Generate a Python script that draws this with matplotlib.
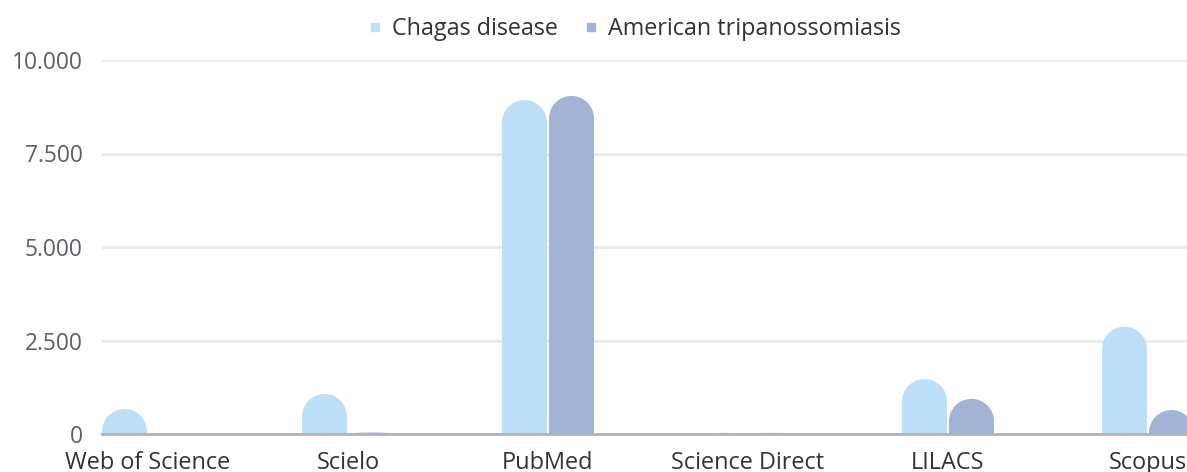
import numpy as np
import matplotlib
matplotlib.use('Agg')
from matplotlib import pyplot as plt
from matplotlib.patches import Ellipse
from matplotlib.lines import Line2D
from matplotlib.ticker import FuncFormatter
plt.rcParams['font.family'] = ['Open Sans', 'DejaVu Sans']

# data
databases = ['Web of Science', 'Scielo', 'PubMed', 'Science Direct', 'LILACS', 'Scopus']
chagas = [670, 1070, 8930, 30, 1470, 2870]
american = [10, 40, 9040, 30, 940, 640]
series_names = ['Chagas disease', 'American tripanossomiasis']
colors = ['#bde0f8', '#a2b3d6']

W, H = 1187, 472
fig = plt.figure(figsize=(W / 100, H / 100), dpi=100)
ax = fig.add_axes([102 / W, 38 / H, (W - 102) / W, 374 / H])

x = np.arange(len(databases))
bar_w = 0.225
offset = 0.1175
ymax = 10000
# cap radius in data units (half bar width, converted to y via pixel scale)
r_px = 0.5 * bar_w * 200
r_y = r_px * ymax / 374

for vals, c, off in zip([chagas, american], colors, [-offset, offset]):
    for xi, v in zip(x, vals):
        ry = min(r_y, v)
        ax.bar(xi + off, v - ry, width=bar_w, color=c, linewidth=0, zorder=3)
        ax.add_patch(Ellipse((xi + off, v - ry), bar_w, 2 * ry, color=c,
                             linewidth=0, zorder=3))

ax.set_xlim(-0.23, 5.195)
ax.set_ylim(0, ymax)
ax.set_yticks([0, 2500, 5000, 7500, 10000])
ax.yaxis.set_major_formatter(FuncFormatter(lambda v, p: f'{int(v):,}'.replace(',', '.')))
ax.set_xticks(x)
ax.set_xticklabels(databases)
ax.tick_params(axis='both', length=0)
ax.tick_params(axis='x', pad=12, labelcolor='#333333', labelsize=16.9)
ax.tick_params(axis='y', pad=14, labelcolor='#5a5e6e', labelsize=16.4)
ax.grid(axis='y', color='#ebebeb', linewidth=2.2, zorder=0)
for s in ['top', 'right', 'left']:
    ax.spines[s].set_visible(False)
ax.spines['bottom'].set_color('#b3b3b3')
ax.spines['bottom'].set_linewidth(2)
ax.spines['bottom'].set_zorder(4)

handles = [Line2D([], [], marker='s', linestyle='', markersize=6, color=c) for c in colors]
fig.legend(handles, series_names, loc='center', bbox_to_anchor=(632 / W, 1 - 29 / H),
           ncol=2, frameon=False, fontsize=16.8, handletextpad=0.2, columnspacing=0.95,
           handlelength=1, labelcolor='#333333')

fig.savefig('out.png', dpi=100)
